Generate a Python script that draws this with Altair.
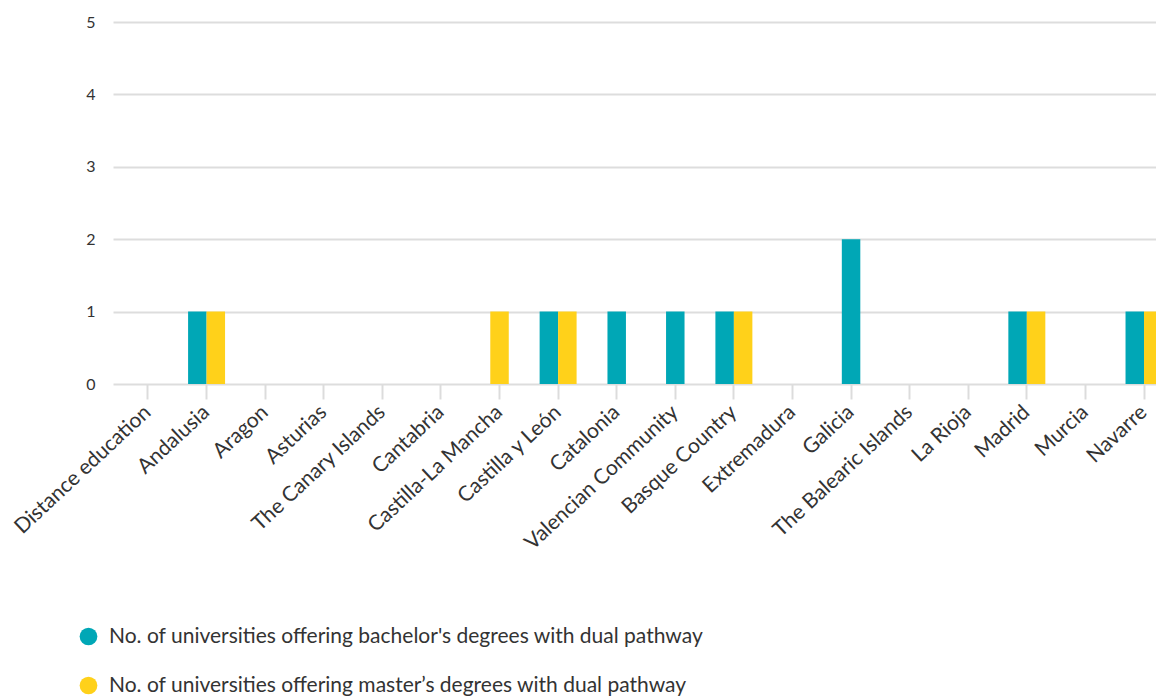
import altair as alt
import pandas as pd

# Regions (x-axis categories)
regions = [
    "Distance education", "Andalusia", "Aragon", "Asturias",
    "The Canary Islands", "Cantabria", "Castilla-La Mancha",
    "Castilla y León", "Catalonia", "Valencian Community",
    "Basque Country", "Extremadura", "Galicia",
    "The Balearic Islands", "La Rioja", "Madrid", "Murcia", "Navarre",
]

# Series names
bachelor_name = "No. of universities offering bachelor's degrees with dual pathway"
master_name = "No. of universities offering master’s degrees with dual pathway"

# Values per region (None = no data)
bachelor = [None, 1, None, None, None, None, None, 1, 1, 1, 1, None, 2,
            None, None, 1, None, 1]
master = [None, 1, None, None, None, None, 1, 1, None, None, 1, None, None,
          None, None, 1, None, 1]

series_names = [bachelor_name, master_name]
series_colors = ["#00a7b6", "#ffd11a"]

rows = []
for name, values in ((bachelor_name, bachelor), (master_name, master)):
    for region, v in zip(regions, values):
        if v is not None:
            rows.append({"region": region, "series": name, "value": v})
df = pd.DataFrame(rows)
df["n"] = df.groupby("region")["series"].transform("count")

x_scale = alt.Scale(domain=regions, range=[0, 1066],
                    paddingInner=0.369, paddingOuter=0.2816)
y_scale = alt.Scale(domain=[0, 5])
color = alt.Color(
    "series:N",
    scale=alt.Scale(domain=series_names, range=series_colors),
    legend=alt.Legend(
        orient="none", legendX=-35, legendY=604, direction="vertical",
        title=None, symbolType="circle", symbolSize=314,
        symbolStrokeWidth=0, labelFontSize=21, labelFont="Lato",
        labelColor="#333333", rowPadding=27, labelOffset=10,
        labelLimit=0, padding=0,
    ),
)

x_axis = alt.Axis(
    title=None, labelAngle=-43, labelAlign="right", labelBaseline="middle",
    labelFontSize=21, labelFont="Lato", labelColor="#333333",
    labelPadding=10, domain=False, ticks=True, tickColor="#dcdcdc",
    tickWidth=2, tickSize=15, grid=False, labelLimit=0,
)
y_axis = alt.Axis(
    title=None, values=[0, 1, 2, 3, 4, 5], labelFontSize=16,
    labelFont="Lato", labelColor="#333333", labelPadding=18,
    domain=False, ticks=False, grid=True, gridColor="#dddddd",
    gridWidth=2,
)

base = alt.Chart(df)

# Regions with both series: bars side by side within the band
pairs = base.transform_filter("datum.n == 2").mark_bar(clip=True).encode(
    x=alt.X("region:N", scale=x_scale, axis=x_axis, sort=regions),
    xOffset=alt.XOffset("series:N",
                        scale=alt.Scale(domain=series_names,
                                        paddingInner=0, paddingOuter=0)),
    y=alt.Y("value:Q", scale=y_scale, axis=y_axis),
    color=color,
)

# Regions with one series: a single centred bar
singles = base.transform_filter("datum.n == 1").mark_bar(
    clip=True, width=alt.RelativeBandSize(0.5)
).encode(
    x=alt.X("region:N", scale=x_scale, axis=x_axis, sort=regions),
    y=alt.Y("value:Q", scale=y_scale, axis=y_axis),
    color=color,
)

chart = alt.layer(pairs, singles).properties(
    width=1043, height=362,
    autosize=alt.AutoSizeParams(type="none"),
    padding={"left": 113, "top": 22, "right": 0, "bottom": 312},
).configure(font="Lato").configure_view(stroke=None)

chart.save("out.html", embed_options={"renderer": "svg", "actions": False})
